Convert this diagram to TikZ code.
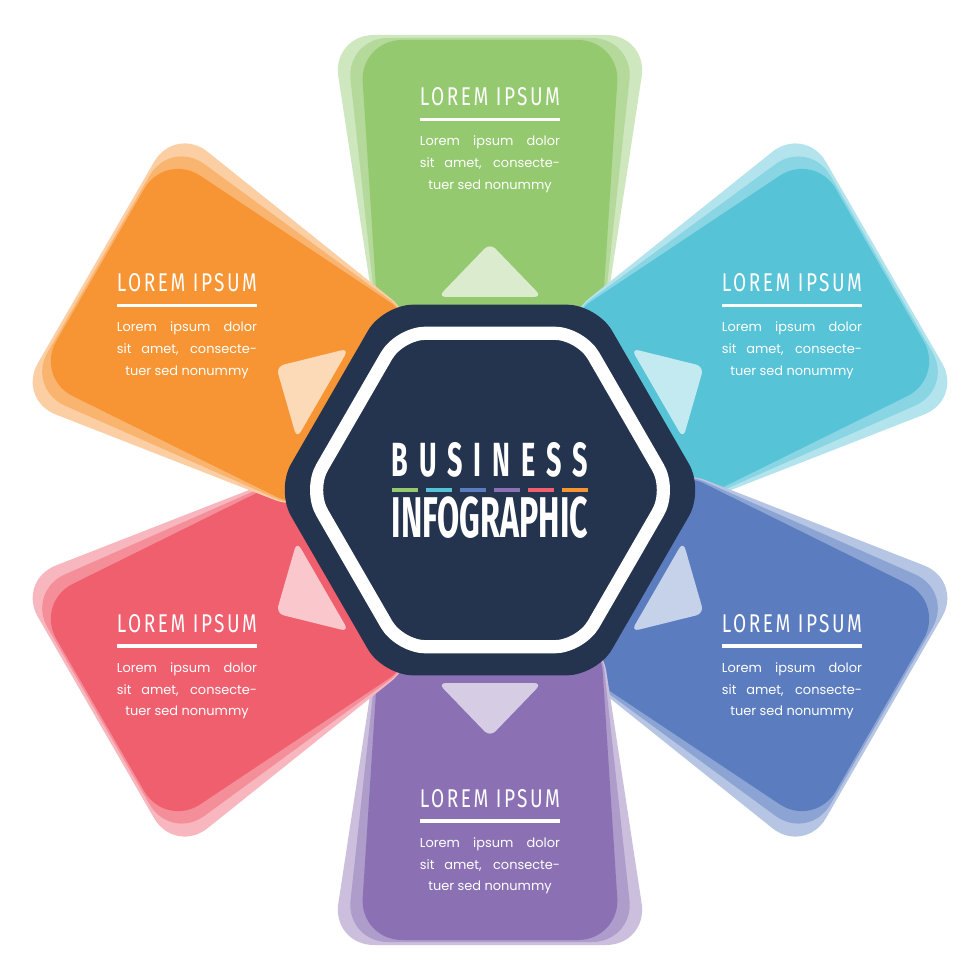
\documentclass[tikz,border=0pt]{standalone}
\usepackage{fontspec}
\usepackage{graphicx}
\setmainfont{Poppins}
\newfontfamily\bodyfont{Poppins}
\newfontfamily\bigfont[FakeStretch=0.5]{Fira Sans}
\newfontfamily\titlefont[FakeStretch=0.68,LetterSpace=9]{Fira Sans}
\definecolor{navy}{HTML}{24344E}
\definecolor{cgreen}{HTML}{94C970}
\definecolor{corange}{HTML}{F79433}
\definecolor{ccyan}{HTML}{56C3D7}
\definecolor{cblue}{HTML}{5B7DC0}
\definecolor{cpurple}{HTML}{8B71B4}
\definecolor{cred}{HTML}{EF5F6E}
\tikzset{
  txt/.style={inner sep=0pt, outer sep=0pt, text=white, font=\bodyfont\fontsize{9.2}{10}\selectfont},
  petallayer/.style={rounded corners=1.05cm},
  arrowtri/.style={rounded corners=0.2cm},
  dashbar/.style={line width=0.1cm}
}
\newcommand\petal[2]{%
  \begin{scope}[rotate=#1]
    \fill[#2!45!white, petallayer] (-110,140) -- (-158,455) -- (158,455) -- (110,140) -- cycle;
    \fill[#2!70!white, petallayer] (-110,140) -- (-144,452) -- (144,452) -- (110,140) -- cycle;
    \fill[#2, petallayer] (-110,140) -- (-130,450) -- (130,450) -- (110,140) -- cycle;
    \fill[#2!35!white, arrowtri] (-52,193) -- (0,247) -- (52,193) -- cycle;
  \end{scope}}
\newcommand\infoblock[3]{%
  \node[txt, anchor=base] (#1t) at (#2,#3) {\resizebox{99.6pt}{12.8pt}{\titlefont LOREM IPSUM}};
  \draw[white, line width=2.5pt] ([shift={(-49.8pt,-10pt)}]#1t.base) -- ([shift={(49.8pt,-10pt)}]#1t.base);
  \node[txt, anchor=base] (#1a) at ([yshift=-28.8pt]#1t.base) {\makebox[99.6pt][s]{Lorem ipsum dolor}};
  \node[txt, anchor=base] (#1b) at ([yshift=-44.1pt]#1t.base) {\makebox[99.6pt][s]{sit amet, consecte-}};
  \node[txt, anchor=base] (#1c) at ([yshift=-59.7pt]#1t.base) {tuer sed nonummy};
}
\begin{document}
\begin{tikzpicture}[x=0.025cm,y=0.025cm]
\fill[white] (-490,-490) rectangle (490,490);
\useasboundingbox (-490,-490) rectangle (490,490);
% petals
\petal{0}{cgreen}
\petal{-60}{ccyan}
\petal{-120}{cblue}
\petal{180}{cpurple}
\petal{120}{cred}
\petal{60}{corange}
% hexagon
\fill[navy, rounded corners=0.75cm] (90:185.3) -- (120:214) -- (180:214) -- (240:214) -- (300:214) -- (0:214) -- (60:214) -- cycle;
\draw[white, line width=0.33cm, rounded corners=0.65cm] (90:156.8) -- (120:181) -- (180:181) -- (240:181) -- (300:181) -- (0:181) -- (60:181) -- cycle;
% centre title
\node[txt, anchor=base] (bus) at (0,13.3) {\resizebox{139.4pt}{24.2pt}{\bigfont\bfseries B\kern.2em U\kern.2em S\kern.2em I\kern.2em N\kern.2em E\kern.2em S\kern.2em S}};
\node[txt, anchor=base] (info) at (0,-47.3) {\resizebox{139.4pt}{29pt}{\bigfont\bfseries INFOGRAPHIC}};
\draw[dashbar, cgreen]  (-98,0) -- (-72,0);
\draw[dashbar, ccyan]   (-64,0) -- (-38,0);
\draw[dashbar, cblue]   (-30,0) -- (-4,0);
\draw[dashbar, cpurple] (4,0) -- (30,0);
\draw[dashbar, cred]    (38,0) -- (64,0);
\draw[dashbar, corange] (72,0) -- (98,0);
% text blocks
\infoblock{g}{0}{384.5}
\infoblock{o}{-303}{198.5}
\infoblock{c}{302}{198.5}
\infoblock{r}{-303}{-142}
\infoblock{b}{302}{-142}
\infoblock{p}{0}{-317}
\end{tikzpicture}
\end{document}
